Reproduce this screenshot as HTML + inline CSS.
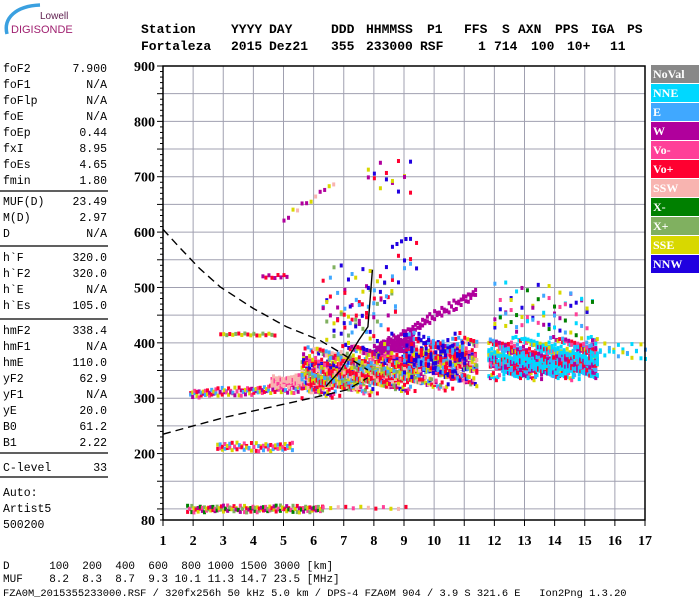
<!DOCTYPE html>
<html><head><meta charset="utf-8">
<style>
html,body{margin:0;padding:0;background:#fff;}
svg{display:block;}
.mono{font-family:"Liberation Mono",monospace;}
.ser{font-family:"Liberation Serif",serif;font-weight:bold;}
</style></head>
<body>
<svg id="chart" width="700" height="600" viewBox="0 0 700 600" xmlns="http://www.w3.org/2000/svg">
<g>
<path d="M7,34 C3,18 16,6 40,5" stroke="#3aa0e0" stroke-width="3.5" fill="none"/>
<text x="40" y="19" font-family="Liberation Sans,sans-serif" font-size="10" fill="#602050">Lowell</text>
<text x="11" y="33" font-family="Liberation Sans,sans-serif" font-size="11" fill="#a02070">DIGISONDE</text>
</g>
<g id="header" class="mono" font-weight="bold" font-size="13" fill="#000"></g>
<g id="leftpanel" class="mono" font-size="11.5" fill="#000"></g>
<g id="grid"></g>
<g id="echoes"></g>
<rect x="163" y="66" width="482" height="454" fill="none" stroke="#000" stroke-width="1.5"/>
<g id="axes"></g>
<g id="legend"></g>
<g class="mono" font-size="11" fill="#000">
<text x="3" y="569" xml:space="preserve">D      100  200  400  600  800 1000 1500 3000 [km]</text>
<text x="3" y="582" xml:space="preserve">MUF    8.2  8.3  8.7  9.3 10.1 11.3 14.7 23.5 [MHz]</text>
<text x="3" y="596" xml:space="preserve" font-size="10.4">FZA0M_2015355233000.RSF / 320fx256h 50 kHz 5.0 km / DPS-4 FZA0M 904 / 3.9 S 321.6 E   Ion2Png 1.3.20</text>
</g>
</svg>
<script>
const NS="http://www.w3.org/2000/svg";
// ---- data arrays ----
const xTicks=[1,2,3,4,5,6,7,8,9,10,11,12,13,14,15,16,17];
const yTickLabels=[900,800,700,600,500,400,300,200,80];
const legendNames=["NoVal","NNE","E","W","Vo-","Vo+","SSW","X-","X+","SSE","NNW"];
const legendColors=["#888888","#00d8ff","#40a8ff","#b0009c","#ff4098","#ff0030","#f8b4b0","#008000","#80b060","#d8d800","#2000e0"];
const paramLabels=["foF2","foF1","foFlp","foE","foEp","fxI","foEs","fmin","MUF(D)","M(D)","D","h`F","h`F2","h`E","h`Es","hmF2","hmF1","hmE","yF2","yF1","yE","B0","B1","C-level"];
const paramValues=["7.900","N/A","N/A","N/A","0.44","8.95","4.65","1.80","23.49","2.97","N/A","320.0","320.0","N/A","105.0","338.4","N/A","110.0","62.9","N/A","20.0","61.2","2.22","33"];
const paramY=[68,84,100,116,132,148,164,180,201,217,233,257,273,289,305,330,346,362,378,394,410,426,442,467];
// echo clusters
const clF0=[1.8,6.3,2.8,1.9,4.6,2.9,5.6,5.8,8.0,8.2,9.0,11.8,15.2,12.0,5.0,7.8,8.6,6.3,4.3,12.3,7.0];
const clF1=[6.3,9.2,5.3,5.6,7.2,4.7,11.4,9.5,11.4,9.3,11.0,15.4,17.0,15.3,6.7,9.2,9.2,8.8,5.1,15.4,9.5];
const clH0=[100,102,212,308,330,415,345,330,385,390,380,372,385,455,625,700,575,455,520,360,440];
const clH1=[100,102,212,318,332,415,365,345,492,402,375,372,385,455,690,700,590,455,520,360,560];
const clSpread=[8,4,10,10,14,4,60,25,12,18,55,50,18,70,10,40,8,110,6,30,40];
const clRows=[2,1,2,2,3,1,10,5,2,4,6,9,2,4,1,2,1,4,1,5,2];
const clStep=[0.07,0.25,0.08,0.07,0.05,0.1,0.05,0.05,0.08,0.05,0.08,0.05,0.15,0.18,0.15,0.2,0.15,0.12,0.1,0.05,0.2];
const clColors=[[5,3,7,4,8,9],[4,9,6,5],[5,4,9,2],[5,3,2,9,4],[6,6,4,6],[5,9,8],[5,9,2,4,6,5,8,10,9,3],[5,9,6,8,5,2],[3],[3],[10,5,2,10],[1,2,1,3,1,5,9,4],[1,9,2,1],[10,1,9,7,3,4,2],[3,3,9,6],[3,10,9,5],[10],[5,9,2,8,3,10],[3,5],[1,3,1,2,1,5],[10,2,5]];
const jitter=[0.13,0.72,0.45,0.91,0.28,0.6,0.05,0.83,0.37,0.55,0.19,0.97,0.66,0.41,0.08,0.77,0.3,0.88,0.52,0.22,0.69,0.01,0.94,0.47,0.35];
// virtual-height curves
const upperF=[1.0,1.5,2.2,2.9,4.0,5.1,6.2,6.9,7.8];
const upperH=[605,575,535,501,462,429,405,382,351];
const lowerF=[1.0,2.0,3.1,4.5,6.0,7.1,7.8];
const lowerH=[235,250,266,283,301,315,337];
const profF=[6.4,6.9,7.5,7.8,7.9,7.95];
const profH=[321,351,405,429,496,532];

const X=f=>163+(f-1)*482/16;
const Y=h=>66+(900-h)*454/820;
function el(tag,attrs,parent,text){const e=document.createElementNS(NS,tag);for(const k in attrs)e.setAttribute(k,attrs[k]);if(text!==undefined)e.textContent=text;parent.appendChild(e);return e;}

// header
const hdr=document.getElementById('header');
const h1=[["Station",141],["YYYY",231],["DAY",269],["DDD",331],["HHMMSS",366],["P1",427],["FFS",464],["S",502],["AXN",518],["PPS",555],["IGA",591],["PS",627]];
const h2=[["Fortaleza",141],["2015",231],["Dez21",269],["355",331],["233000",366],["RSF",420],["1",478],["714",494],["100",531],["10+",567],["11",610]];
h1.forEach(t=>{const e=el('text',{x:t[1],y:33},hdr,t[0]);

});
h2.forEach(t=>{const e=el('text',{x:t[1],y:50},hdr,t[0]);

});

// left panel
const lp=document.getElementById('leftpanel');
paramLabels.forEach((l,i)=>{
 const a=el('text',{x:3,y:paramY[i]+4},lp,l);
 
 
 const b=el('text',{x:107,y:paramY[i]+4,'text-anchor':'end'},lp,paramValues[i]);
 
 
});
[191,246,319,453,477].forEach(y=>{const s=el('line',{x1:0,x2:108,y1:y,y2:y,stroke:'#000','stroke-width':1.2},lp);

});
[["Auto:",492],["Artist5",508],["500200",524]].forEach(t=>{const e=el('text',{x:3,y:t[1]+4},lp,t[0]);

});

// grid
const g=document.getElementById('grid');
xTicks.forEach(f=>{const l=el('line',{x1:X(f),x2:X(f),y1:66,y2:520,stroke:'#a0a0b0','stroke-width':1},g);

});
for(let h=100;h<900;h+=50){const l=el('line',{x1:163,x2:645,y1:Y(h),y2:Y(h),stroke:'#a0a0b0','stroke-width':1},g);

}

// axes labels
const ax=document.getElementById('axes');
xTicks.forEach(f=>{const t=el('text',{x:X(f),y:545,'text-anchor':'middle','font-size':14,class:'ser'},ax,String(f));

});
yTickLabels.forEach(h=>{const t=el('text',{x:155,y:Y(h)+5,'text-anchor':'end','font-size':14,class:'ser'},ax,String(h));

});
for(let h=80;h<=900;h+=10){const w=(h%50===0)?6:3;const l=el('line',{x1:163-w,x2:163,y1:Y(h),y2:Y(h),stroke:'#000','stroke-width':1},ax);

}
xTicks.forEach(f=>{const l=el('line',{x1:X(f),x2:X(f),y1:520,y2:526,stroke:'#000'},ax);

});

// echoes
const eg=document.getElementById('echoes');
for(let c=0;c<clF0.length;c++){
 let i=0;
 for(let f=clF0[c];f<=clF1[c]+1e-9;f+=clStep[c],i++){
  const t=(clF1[c]>clF0[c])?(f-clF0[c])/(clF1[c]-clF0[c]):0;
  const hc=clH0[c]+(clH1[c]-clH0[c])*t;
  for(let r=0;r<clRows[c];r++){
   const j=jitter[(i*7+r*3+c)%jitter.length];
   const h=hc+clSpread[c]*(j-0.5)+ (clRows[c]>1? clSpread[c]*(r/(clRows[c]-1)-0.5)*0.6:0);
   const col=legendColors[clColors[c][(i+r*2)%clColors[c].length]];
   const p=el('rect',{x:X(f)-1,y:Y(h)-2,width:3,height:4,fill:col},eg);
   
   
  }
 }
}

// curves
function poly(F,H,dash,name){const d=F.map((f,i)=>(i?'L':'M')+X(f).toFixed(1)+','+Y(H[i]).toFixed(1)).join(' ');
 const p=el('path',{d:d,fill:'none',stroke:'#000','stroke-width':1.4,'stroke-dasharray':dash},eg);
 
 }
poly(upperF,upperH,'8,5','upper-dashed-curve');
poly(lowerF,lowerH,'8,5','lower-dashed-curve');
poly(profF,profH,'none','electron-density-profile');

// legend
const lg=document.getElementById('legend');
legendNames.forEach((n,i)=>{
 const y=65+i*19;
 const r=el('rect',{x:651,y:y,width:48,height:18,fill:legendColors[i]},lg);
 
 
 const t=el('text',{x:653,y:y+13,'font-size':12,fill:'#fff',class:'ser'},lg,n);
 
 
});
</script>
</body></html>
